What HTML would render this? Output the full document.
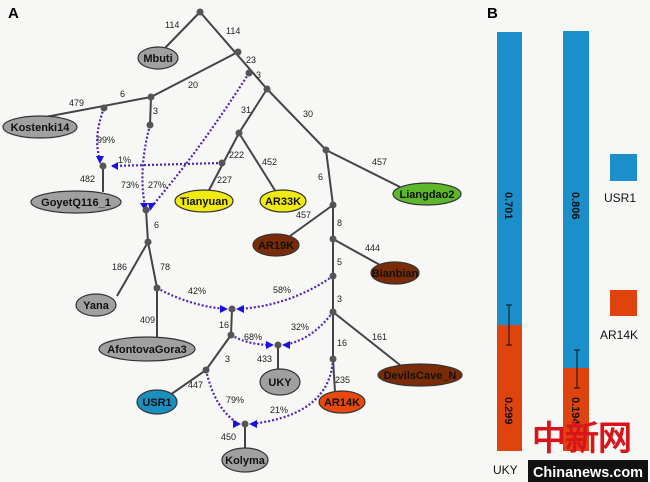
<!DOCTYPE html>
<html><head><meta charset="utf-8"><style>
html,body{margin:0;padding:0;background:#f7f8f5;}
svg{display:block;}
text{font-family:"Liberation Sans",sans-serif;}
.l{font-size:9px;fill:#222;}
.n{font-size:11px;font-weight:bold;fill:#111;text-anchor:middle;}
.e{stroke:#333;stroke-width:1.2;}
.s{stroke:#444;stroke-width:2;fill:none;}
.d{stroke:#5522bb;stroke-width:2.2;stroke-dasharray:2 2;fill:none;}
</style></head><body>
<svg width="650" height="482" viewBox="0 0 650 482" xmlns="http://www.w3.org/2000/svg">
<rect width="650" height="482" fill="#f7f8f5"/>
<text x="8" y="18" font-size="15" font-weight="bold">A</text>
<text x="487" y="18" font-size="15" font-weight="bold">B</text>
<g class="s">
<line x1="200" y1="12" x2="165" y2="48"/>
<line x1="200" y1="12" x2="267" y2="89"/>
<line x1="238" y1="52" x2="151" y2="97"/>
<line x1="151" y1="97" x2="40" y2="118"/>
<line x1="151" y1="97" x2="150" y2="125"/>
<line x1="103" y1="166" x2="103" y2="192"/>
<line x1="267" y1="89" x2="239" y2="133"/>
<line x1="239" y1="133" x2="208" y2="192"/>
<line x1="239" y1="133" x2="276" y2="192"/>
<line x1="267" y1="89" x2="326" y2="150"/>
<line x1="326" y1="150" x2="400" y2="187"/>
<line x1="326" y1="150" x2="333" y2="205"/>
<line x1="333" y1="205" x2="290" y2="236"/>
<line x1="333" y1="205" x2="333" y2="359"/>
<line x1="333" y1="239" x2="380" y2="265"/>
<line x1="333" y1="312" x2="400" y2="365"/>
<line x1="333" y1="359" x2="335" y2="392"/>
<line x1="146" y1="210" x2="148" y2="242"/>
<line x1="148" y1="242" x2="117" y2="296"/>
<line x1="148" y1="242" x2="157" y2="288"/>
<line x1="157" y1="288" x2="157" y2="338"/>
<line x1="232" y1="309" x2="231" y2="335"/>
<line x1="231" y1="335" x2="206" y2="370"/>
<line x1="206" y1="370" x2="170" y2="395"/>
<line x1="278" y1="345" x2="278" y2="370"/>
<line x1="245" y1="424" x2="245" y2="448"/>
</g>
<g class="d">
<path d="M104 108 Q92 140 101 162"/>
<path d="M150 125 Q138 170 145 206"/>
<path d="M249 73 Q200 150 152 206"/>
<path d="M222 163 L112 166"/>
<path d="M157 288 Q190 306 226 309"/>
<path d="M333 276 Q290 306 238 309"/>
<path d="M231 335 Q248 345 272 345"/>
<path d="M333 312 Q312 340 284 345"/>
<path d="M206 370 Q215 410 239 424"/>
<path d="M333 359 Q330 415 251 424"/>
</g>
<g fill="#1a10e0">
<polygon points="96,156 104,156 100,164"/>
<polygon points="111,166 118,162 118,170"/>
<polygon points="140,203 148,203 145,211"/>
<polygon points="148,203 156,203 150,211"/>
<polygon points="220,305 228,309 220,313"/>
<polygon points="244,305 236,309 244,313"/>
<polygon points="266,341 274,345 266,349"/>
<polygon points="290,341 282,345 290,349"/>
<polygon points="233,420 241,424 233,428"/>
<polygon points="257,420 249,424 257,428"/>
</g>
<g fill="#555">
<circle cx="200" cy="12" r="3.5"/><circle cx="238" cy="52" r="3.5"/><circle cx="249" cy="73" r="3.5"/><circle cx="267" cy="89" r="3.5"/>
<circle cx="151" cy="97" r="3.5"/><circle cx="104" cy="108" r="3.5"/><circle cx="150" cy="125" r="3.5"/><circle cx="103" cy="166" r="3.5"/>
<circle cx="146" cy="210" r="3.5"/><circle cx="239" cy="133" r="3.5"/><circle cx="222" cy="163" r="3.5"/><circle cx="326" cy="150" r="3.5"/>
<circle cx="333" cy="205" r="3.5"/><circle cx="333" cy="239" r="3.5"/><circle cx="333" cy="276" r="3.5"/><circle cx="333" cy="312" r="3.5"/>
<circle cx="333" cy="359" r="3.5"/><circle cx="148" cy="242" r="3.5"/><circle cx="157" cy="288" r="3.5"/><circle cx="232" cy="309" r="3.5"/>
<circle cx="231" cy="335" r="3.5"/><circle cx="278" cy="345" r="3.5"/><circle cx="206" cy="370" r="3.5"/><circle cx="245" cy="424" r="3.5"/>
</g>
<g class="e">
<ellipse cx="158" cy="58" rx="20" ry="11" fill="#a0a0a0"/>
<ellipse cx="40" cy="127" rx="37" ry="11" fill="#a0a0a0"/>
<ellipse cx="76" cy="202" rx="45" ry="11" fill="#a0a0a0"/>
<ellipse cx="204" cy="201" rx="29" ry="11" fill="#f0ea10"/>
<ellipse cx="283" cy="201" rx="23" ry="11" fill="#f0ea10"/>
<ellipse cx="427" cy="194" rx="34" ry="11" fill="#5cb82a"/>
<ellipse cx="276" cy="245" rx="23" ry="11" fill="#7a2c08"/>
<ellipse cx="395" cy="273" rx="24" ry="11" fill="#7a2c08"/>
<ellipse cx="420" cy="375" rx="42" ry="11" fill="#7a2c08"/>
<ellipse cx="342" cy="402" rx="23" ry="11" fill="#e8480e"/>
<ellipse cx="96" cy="305" rx="20" ry="11" fill="#a0a0a0"/>
<ellipse cx="147" cy="349" rx="48" ry="12" fill="#a0a0a0"/>
<ellipse cx="280" cy="382" rx="20" ry="13" fill="#a0a0a0"/>
<ellipse cx="157" cy="402" rx="20" ry="12" fill="#1b8fbf"/>
<ellipse cx="245" cy="460" rx="23" ry="12" fill="#a0a0a0"/>
</g>
<g class="n">
<text x="158" y="62">Mbuti</text><text x="40" y="131">Kostenki14</text><text x="76" y="206">GoyetQ116_1</text>
<text x="204" y="205">Tianyuan</text><text x="283" y="205">AR33K</text><text x="427" y="198">Liangdao2</text>
<text x="276" y="249">AR19K</text><text x="395" y="277">Bianbian</text><text x="420" y="379">DevilsCave_N</text>
<text x="342" y="406">AR14K</text><text x="96" y="309">Yana</text><text x="147" y="353">AfontovaGora3</text>
<text x="280" y="386">UKY</text><text x="157" y="406">USR1</text><text x="245" y="464">Kolyma</text>
</g>
<g class="l">
<text x="165" y="28">114</text><text x="226" y="34">114</text><text x="246" y="63">23</text><text x="256" y="78">3</text>
<text x="188" y="88">20</text><text x="120" y="97">6</text><text x="69" y="106">479</text><text x="153" y="114">3</text>
<text x="241" y="113">31</text><text x="303" y="117">30</text><text x="97" y="143">99%</text><text x="118" y="163">1%</text>
<text x="80" y="182">482</text><text x="121" y="188">73%</text><text x="148" y="188">27%</text><text x="229" y="158">222</text>
<text x="262" y="165">452</text><text x="217" y="183">227</text><text x="154" y="228">6</text><text x="318" y="180">6</text>
<text x="372" y="165">457</text><text x="296" y="218">457</text><text x="337" y="226">8</text><text x="365" y="251">444</text>
<text x="337" y="265">5</text><text x="112" y="270">186</text><text x="160" y="270">78</text><text x="188" y="294">42%</text>
<text x="273" y="293">58%</text><text x="337" y="302">3</text><text x="140" y="323">409</text><text x="219" y="328">16</text>
<text x="244" y="340">68%</text><text x="291" y="330">32%</text><text x="337" y="346">16</text><text x="372" y="340">161</text>
<text x="225" y="362">3</text><text x="257" y="362">433</text><text x="188" y="388">447</text><text x="335" y="383">235</text>
<text x="226" y="403">79%</text><text x="270" y="413">21%</text><text x="221" y="440">450</text>
</g>
<!-- Panel B -->
<rect x="497" y="32" width="25" height="293" fill="#1b8fc9"/>
<rect x="497" y="325" width="25" height="126" fill="#e0440e"/>
<rect x="563" y="31" width="26" height="337" fill="#1b8fc9"/>
<rect x="563" y="368" width="26" height="83" fill="#e0440e"/>
<g stroke="#111" stroke-width="1"><line x1="509" y1="305" x2="509" y2="345"/><line x1="506" y1="305" x2="512" y2="305"/><line x1="506" y1="345" x2="512" y2="345"/>
<line x1="577" y1="350" x2="577" y2="388"/><line x1="574" y1="350" x2="580" y2="350"/><line x1="574" y1="388" x2="580" y2="388"/></g>
<text transform="translate(505,192) rotate(90)" font-size="11" font-weight="bold" fill="#111">0.701</text>
<text transform="translate(572,192) rotate(90)" font-size="11" font-weight="bold" fill="#111">0.806</text>
<text transform="translate(505,397) rotate(90)" font-size="11" font-weight="bold" fill="#111">0.299</text>
<text transform="translate(572,397) rotate(90)" font-size="11" font-weight="bold" fill="#111">0.194</text>
<rect x="610" y="154" width="27" height="27" fill="#1b8fc9"/>
<rect x="610" y="290" width="27" height="26" fill="#e0440e"/>
<text x="604" y="202" font-size="12" fill="#111">USR1</text>
<text x="600" y="339" font-size="12" fill="#111">AR14K</text>
<text x="493" y="474" font-size="12" fill="#111">UKY</text>
<text x="532" y="450" font-size="34" font-weight="bold" fill="#d8141a" font-family="'Noto Serif CJK SC',serif" textLength="100">中新网</text>
<rect x="528" y="460" width="120" height="22" fill="#111"/>
<text x="533" y="477" font-size="15" font-weight="bold" fill="#fff" textLength="110" lengthAdjust="spacingAndGlyphs">Chinanews.com</text>
</svg>
</body></html>
